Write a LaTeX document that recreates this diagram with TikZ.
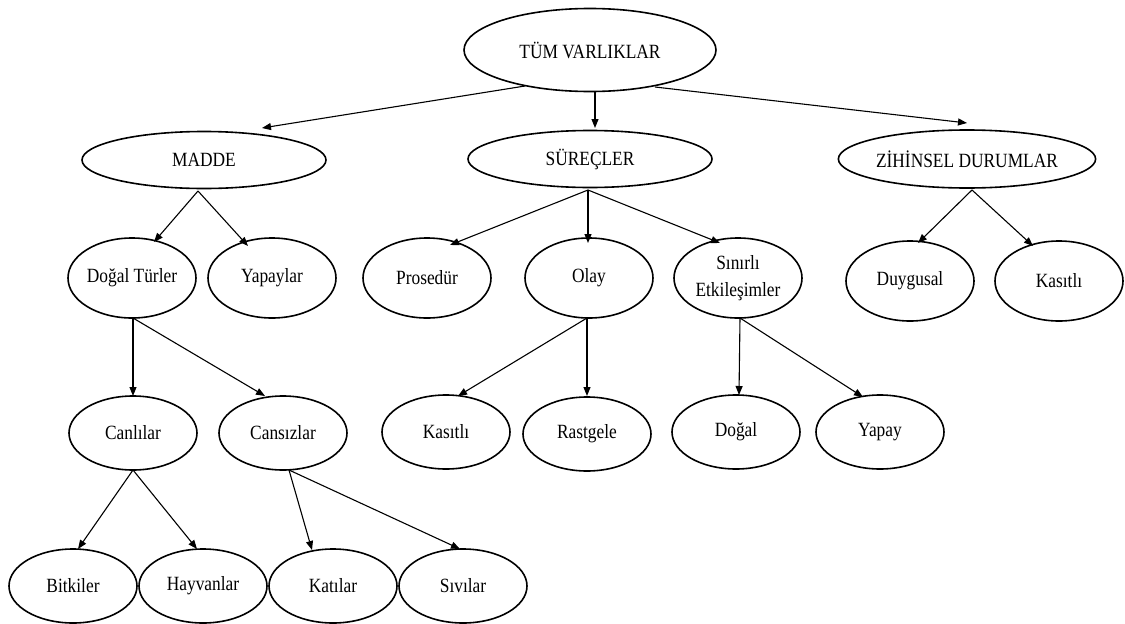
\documentclass[tikz,border=0pt]{standalone}
\usepackage{fontspec}
\setmainfont{Liberation Serif}[FakeStretch=0.86]
\usetikzlibrary{shapes.geometric,arrows.meta}
\begin{document}
\begin{tikzpicture}[x=1pt,y=-1pt,
  box/.style={draw,ellipse,line width=1.6pt,inner sep=0pt,align=center,
    font=\fontsize{20.2}{26.5}\selectfont},
  rootbox/.style={box,minimum width=252pt,minimum height=83pt},
  catbox/.style={box,minimum width=244pt,minimum height=57pt},
  kindbox/.style={box,minimum width=128pt,minimum height=80pt},
  leafbox/.style={box,minimum width=128pt,minimum height=74pt},
  arr/.style={-{Triangle[length=9pt,width=7pt]},line width=1.1pt}]
\useasboundingbox (0,0) rectangle (1125,624);

% root
\node[rootbox] (tum) at (590,50) {TÜM VARLIKLAR};

% main categories
\node[catbox] (madde) at (204,160) {MADDE};
\node[catbox] (surec) at (590,159) {SÜREÇLER};
\node[catbox,minimum width=243pt,minimum height=58pt] (zihin) at (967,159) {ZİHİNSEL DURUMLAR};

% second level
\node[kindbox] (dogal) at (132,278) {Doğal Türler};
\node[kindbox] (yapaylar) at (272,278) {Yapaylar};
\node[kindbox] (prosedur) at (427,278) {Prosedür};
\node[kindbox] (olay) at (589,278) {Olay};
\node[kindbox] (sinirli) at (738,278) {Sınırlı\\Etkileşimler};
\node[kindbox] (duygusal) at (910,281) {Duygusal};
\node[kindbox] (kasitlia) at (1059,281) {Kasıtlı};

% third level
\node[leafbox] (canlilar) at (133,433) {Canlılar};
\node[leafbox] (cansizlar) at (283,433) {Cansızlar};
\node[leafbox] (kasitlib) at (446,432) {Kasıtlı};
\node[leafbox] (rastgele) at (587,434) {Rastgele};
\node[leafbox] (dogalb) at (736,432) {Doğal};
\node[leafbox] (yapay) at (880,432) {Yapay};

% fourth level
\node[leafbox] (bitkiler) at (73,586) {Bitkiler};
\node[leafbox] (hayvanlar) at (203,586) {Hayvanlar};
\node[leafbox] (katilar) at (333,586) {Katılar};
\node[leafbox] (sivilar) at (463,586) {Sıvılar};

% connectors
\draw[arr] ([shift={(-65,36)}]tum.center) -- ([shift={(58,-32)}]madde.center);
\draw[arr] ([shift={(5,41)}]tum.center) -- ([shift={(5,-31)}]surec.center);
\draw[arr] ([shift={(65,37)}]tum.center) -- ([shift={(0,-36)}]zihin.center);

\draw[arr] ([shift={(-6,31)}]madde.center) -- ([shift={(22,-36)}]dogal.center);
\draw[arr] ([shift={(-6,31)}]madde.center) -- ([shift={(-24,-32)}]yapaylar.center);

\draw[arr] ([shift={(-2,31)}]surec.center) -- ([shift={(23,-33)}]prosedur.center);
\draw[arr] ([shift={(-2,31)}]surec.center) -- ([shift={(-1,-35)}]olay.center);
\draw[arr] ([shift={(-2,31)}]surec.center) -- ([shift={(-18,-35)}]sinirli.center);

\draw[arr] ([shift={(5,31)}]zihin.center) -- ([shift={(8,-38)}]duygusal.center);
\draw[arr] ([shift={(5,31)}]zihin.center) -- ([shift={(-26,-35)}]kasitlia.center);

\draw[arr] ([shift={(1,40)}]dogal.center) -- ([shift={(0,-37)}]canlilar.center);
\draw[arr] ([shift={(1,40)}]dogal.center) -- ([shift={(-18,-37)}]cansizlar.center);

\draw[arr] ([shift={(-2,40)}]olay.center) -- ([shift={(12,-36)}]kasitlib.center);
\draw[arr] ([shift={(-2,40)}]olay.center) -- ([shift={(0,-38)}]rastgele.center);

\draw[arr] ([shift={(2,40)}]sinirli.center) -- ([shift={(3,-37)}]dogalb.center);
\draw[arr] ([shift={(2,40)}]sinirli.center) -- ([shift={(-17,-35)}]yapay.center);

\draw[arr] ([shift={(0,37)}]canlilar.center) -- ([shift={(5,-37)}]bitkiler.center);
\draw[arr] ([shift={(0,37)}]canlilar.center) -- ([shift={(-6,-37)}]hayvanlar.center);

\draw[arr] ([shift={(6,37)}]cansizlar.center) -- ([shift={(-21,-36)}]katilar.center);
\draw[arr] ([shift={(6,37)}]cansizlar.center) -- ([shift={(-3,-37)}]sivilar.center);
\end{tikzpicture}
\end{document}
